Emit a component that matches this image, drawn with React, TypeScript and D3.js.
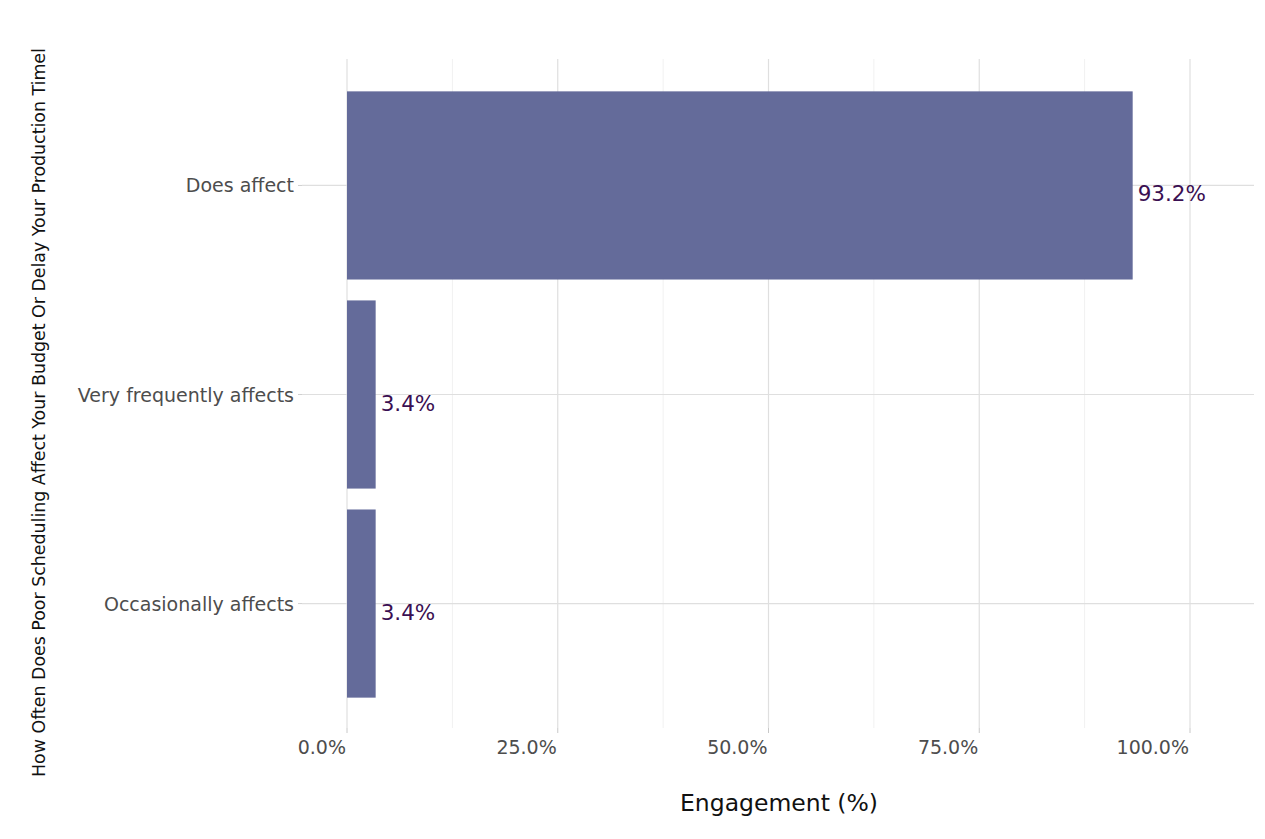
import React, { useRef, useEffect } from 'react';
import * as d3 from 'd3';

// data
const categories = ['Does affect', 'Very frequently affects', 'Occasionally affects'];
const values = [93.2, 3.4, 3.4];
const majorTicks = [0, 25, 50, 75, 100];
const minorTicks = [12.5, 37.5, 62.5, 87.5];

const yTitle = 'How Often Does Poor Scheduling Affect Your Budget Or Delay Your Production Timel';
const xTitle = 'Engagement (%)';

const W = 1265;
const H = 839;

const App: React.FC = () => {
  const svgRef = useRef<SVGSVGElement>(null);

  useEffect(() => {
    if (!svgRef.current) return;
    const svg = d3.select(svgRef.current);
    svg.selectAll('*').remove();

    const panel = { left: 302, right: 1254, top: 60, bottom: 729 };
    const font = '"DejaVu Sans", sans-serif';

    // 0% at 347, 100% at 1190
    const x = d3.scaleLinear().domain([0, 100]).range([347, 1190]);
    const y = d3
      .scalePoint<string>()
      .domain(categories)
      .range([panel.top, panel.bottom])
      .padding(0.6);
    const step = y.step();
    const barH = step * 0.9;

    const g = svg.append('g');

    // minor grid
    g.selectAll('.minor')
      .data(minorTicks)
      .enter()
      .append('line')
      .attr('x1', (d) => x(d))
      .attr('x2', (d) => x(d))
      .attr('y1', panel.top - 1)
      .attr('y2', panel.bottom - 1)
      .attr('stroke', '#f1f1f1')
      .attr('stroke-width', 1);

    // major grid vertical
    g.selectAll('.major')
      .data(majorTicks)
      .enter()
      .append('line')
      .attr('x1', (d) => x(d))
      .attr('x2', (d) => x(d))
      .attr('y1', panel.top - 1)
      .attr('y2', panel.bottom - 1)
      .attr('stroke', '#dfdfdf')
      .attr('stroke-width', 1.2);

    // major grid horizontal
    g.selectAll('.hgrid')
      .data(categories)
      .enter()
      .append('line')
      .attr('x1', panel.left)
      .attr('x2', panel.right)
      .attr('y1', (d) => y(d) as number)
      .attr('y2', (d) => y(d) as number)
      .attr('stroke', '#dfdfdf')
      .attr('stroke-width', 1.2);

    // ticks
    g.selectAll('.ytick')
      .data(categories)
      .enter()
      .append('line')
      .attr('x1', panel.left - 4)
      .attr('x2', panel.left)
      .attr('y1', (d) => y(d) as number)
      .attr('y2', (d) => y(d) as number)
      .attr('stroke', '#d0d0d0');

    g.selectAll('.xtick')
      .data(majorTicks)
      .enter()
      .append('line')
      .attr('x1', (d) => x(d))
      .attr('x2', (d) => x(d))
      .attr('y1', panel.bottom - 1)
      .attr('y2', panel.bottom + 4)
      .attr('stroke', '#c8c8c8');

    // bars
    g.selectAll('.bar')
      .data(values)
      .enter()
      .append('rect')
      .attr('x', x(0))
      .attr('y', (_, i) => (y(categories[i]) as number) - barH / 2)
      .attr('width', (d) => x(d) - x(0))
      .attr('height', barH)
      .attr('fill', '#646b9a');

    // value labels
    g.selectAll('.val')
      .data(values)
      .enter()
      .append('text')
      .attr('x', (d) => x(d) + 5)
      .attr('y', (_, i) => (y(categories[i]) as number) + 16)
      .attr('font-family', font)
      .attr('font-size', 21.5)
      .attr('fill', '#3a0f52')
      .text((d) => `${d.toFixed(1)}%`);

    // y tick labels
    g.selectAll('.ylab')
      .data(categories)
      .enter()
      .append('text')
      .attr('x', 294)
      .attr('y', (d) => (y(d) as number) + 7)
      .attr('text-anchor', 'end')
      .attr('font-family', font)
      .attr('font-size', 19)
      .attr('fill', '#4d4d4d')
      .text((d) => d);

    // x tick labels
    g.selectAll('.xlab')
      .data(majorTicks)
      .enter()
      .append('text')
      .attr('x', (d) => x(d) - 1)
      .attr('y', 754)
      .attr('text-anchor', 'end')
      .attr('font-family', font)
      .attr('font-size', 19)
      .attr('fill', '#4d4d4d')
      .text((d) => `${d.toFixed(1)}%`);

    // axis titles
    g.append('text')
      .attr('x', (panel.left + panel.right) / 2 + 1)
      .attr('y', 811)
      .attr('text-anchor', 'middle')
      .attr('font-family', font)
      .attr('font-size', 23.5)
      .attr('fill', '#111')
      .text(xTitle);

    g.append('text')
      .attr('transform', 'translate(45,777) rotate(-90)')
      .attr('text-anchor', 'start')
      .attr('font-family', font)
      .attr('font-size', 17.4)
      .attr('fill', '#111')
      .text(yTitle);
  }, []);

  return (
    <svg
      ref={svgRef}
      width={W}
      height={H}
      style={{ position: 'absolute', left: 0, top: 0, background: '#fff' }}
    />
  );
};

export default App;
